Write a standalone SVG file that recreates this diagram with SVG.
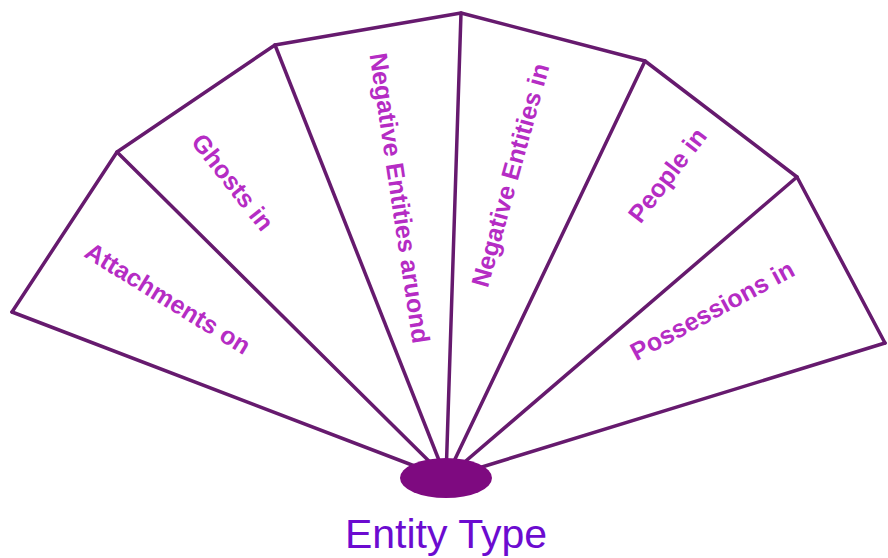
<svg xmlns="http://www.w3.org/2000/svg" width="888" height="558" viewBox="0 0 888 558">
<style>
.ln{stroke:#661a6e;stroke-width:3.5;fill:none;stroke-linecap:round;stroke-linejoin:round}
.lbl{font-family:"Liberation Sans",Arial,sans-serif;font-weight:bold;font-size:25px;fill:#b52cc4;text-anchor:middle;dominant-baseline:central}
.title{font-family:"Liberation Sans",Arial,sans-serif;font-size:41px;fill:#6c0bd0;text-anchor:middle}
</style>
<rect width="888" height="558" fill="#ffffff"/>
<g id="connectors">
<polyline class="ln" points="12,312 117,152 275,45 461,13 645,61 797,177 885,343"/>
<line class="ln" x1="12" y1="312" x2="446" y2="478"/>
<line class="ln" x1="117" y1="152" x2="446" y2="478"/>
<line class="ln" x1="275" y1="45" x2="446" y2="478"/>
<line class="ln" x1="461" y1="13" x2="446" y2="478"/>
<line class="ln" x1="645" y1="61" x2="446" y2="478"/>
<line class="ln" x1="797" y1="177" x2="446" y2="478"/>
<line class="ln" x1="885" y1="343" x2="446" y2="478"/>
</g>
<g id="seg-attachments"><text class="lbl" transform="translate(168,298) rotate(31.7)">Attachments on</text></g>
<g id="seg-ghosts"><text class="lbl" transform="translate(233,182) rotate(51.8)">Ghosts in</text></g>
<g id="seg-around"><text class="lbl" transform="translate(400,198) rotate(81.5)">Negative Entities aruond</text></g>
<g id="seg-negin"><text class="lbl" transform="translate(510,175) rotate(-74.5)">Negative Entities in</text></g>
<g id="seg-people"><text class="lbl" transform="translate(667,175) rotate(-52.6)">People in</text></g>
<g id="seg-possessions"><text class="lbl" transform="translate(712,310) rotate(-28.4)">Possessions in</text></g>
<g id="hub">
<ellipse cx="446" cy="478" rx="46" ry="20" fill="#7e0a80"/>
<text class="title" x="446" y="548">Entity Type</text>
</g>
</svg>
